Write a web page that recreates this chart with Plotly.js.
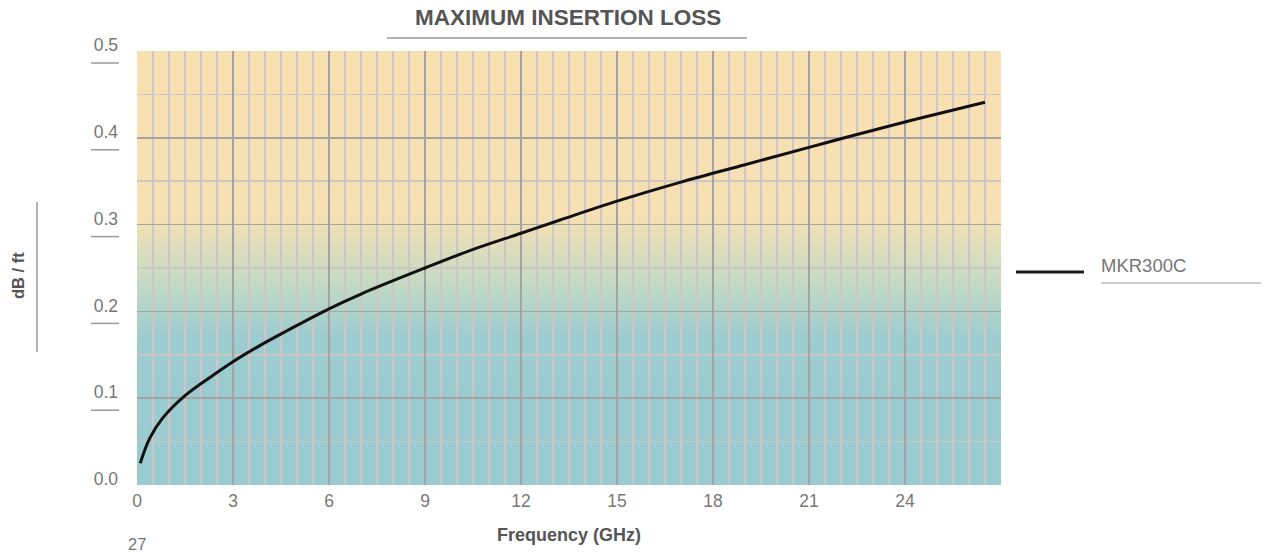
<!DOCTYPE html>
<html>
<head>
<meta charset="utf-8">
<script src="https://cdn.plot.ly/plotly-3.0.1.min.js"></script>
<style>
html,body{margin:0;padding:0;background:#fff;}
#chart{width:1269px;height:555px;}
</style>
</head>
<body>
<div id="chart"></div>
<script>
// ---- data ----
const seriesName = "MKR300C";
const freqGHz = [0.1, 0.4, 0.8, 1.5, 2.4, 3, 4, 4.7, 6, 7, 9, 10.4, 12, 13.2, 15, 17, 19, 21, 22.2, 24.3, 26.5];
const lossDbPerFt = [0.025, 0.054, 0.077, 0.103, 0.127, 0.142, 0.164, 0.178, 0.203, 0.220, 0.250, 0.270, 0.290, 0.305, 0.327, 0.349, 0.369, 0.389, 0.401, 0.421, 0.441];
const xTickVals = [0, 3, 6, 9, 12, 15, 18, 21, 24];
const xTickText = ["0", "3", "6", "9", "12", "15", "18", "21", "24"];
const yTickVals = [0, 0.1, 0.2, 0.3, 0.4, 0.5];
const yTickText = ["0.0", "0.1", "0.2", "0.3", "0.4", "0.5"];
const strayTickLabel = "27";
const chartTitle = "MAXIMUM INSERTION LOSS";
const xTitle = "Frequency (GHz)";
const yTitle = "dB / ft";

// ---- background gradient image ----
function gradientURL() {
  const c = document.createElement("canvas");
  c.width = 4; c.height = 434;
  const g = c.getContext("2d");
  const lg = g.createLinearGradient(0, 0, 0, 434);
  lg.addColorStop(0, "#f9e0b1");
  lg.addColorStop(0.38, "#f6e0b4");
  lg.addColorStop(0.52, "#c9dbc3");
  lg.addColorStop(0.66, "#9dccd0");
  lg.addColorStop(1, "#99cbd0");
  g.fillStyle = lg;
  g.fillRect(0, 0, 4, 434);
  return c.toDataURL("image/png");
}

const font = "Liberation Sans, Arial, Helvetica, sans-serif";
const PW = 864, PH = 434, L = 137, T = 51;
const px = v => (v - L) / PW;          // pixel x -> paper x
const py = v => (T + PH - v) / PH;      // pixel y -> paper y

const trace = {
  x: freqGHz, y: lossDbPerFt, type: "scatter", mode: "lines",
  name: seriesName, line: {color: "#111111", width: 3, shape: "spline", smoothing: 1},
  showlegend: false, hoverinfo: "x+y"
};

const shapes = [
  // title underline
  {type: "line", xref: "paper", yref: "paper", x0: px(387), x1: px(747), y0: py(38), y1: py(38), line: {color: "#9a9a9a", width: 1.5}},
  // y title line
  {type: "line", xref: "paper", yref: "paper", x0: px(37), x1: px(37), y0: py(202), y1: py(352), line: {color: "#9a9a9a", width: 1.5}},
  // legend sample line
  {type: "line", xref: "paper", yref: "paper", x0: px(1016), x1: px(1084), y0: py(272), y1: py(272), line: {color: "#1a1a1a", width: 3}},
  // legend underline
  {type: "line", xref: "paper", yref: "paper", x0: px(1101), x1: px(1261), y0: py(283), y1: py(283), line: {color: "#9a9a9a", width: 1.2}}
];
// dashes beneath each y tick label
yTickVals.forEach(v => {
  shapes.push({type: "line", xref: "paper", yref: "y", ysizemode: "pixel", yanchor: v,
    x0: px(91), x1: px(119), y0: -12, y1: -12, line: {color: "#9a9a9a", width: 1.5}});
});

const annotations = [
  {text: chartTitle, xref: "paper", yref: "paper", x: px(568), y: py(18), showarrow: false,
   xanchor: "center", yanchor: "middle", font: {family: font, size: 22.5, color: "#555555", weight: "bold"}},
  {text: yTitle, xref: "paper", yref: "paper", x: px(18), y: py(276), showarrow: false, textangle: -90,
   xanchor: "center", yanchor: "middle", font: {family: font, size: 16.5, color: "#555555", weight: "bold"}},
  {text: seriesName, xref: "paper", yref: "paper", x: px(1099), y: py(265), showarrow: false,
   xanchor: "left", yanchor: "middle", font: {family: font, size: 18.5, color: "#777777"}},
  {text: strayTickLabel, xref: "x", yref: "paper", x: 0, y: py(543.5), showarrow: false,
   xanchor: "center", yanchor: "middle", font: {family: font, size: 16.5, color: "#777777"}}
];

const layout = {
  width: 1269, height: 555,
  margin: {l: L, r: 1269 - L - PW, t: T, b: 555 - T - PH, pad: 0},
  paper_bgcolor: "#ffffff", plot_bgcolor: "#ffffff",
  font: {family: font, color: "#777777", size: 17.5},
  showlegend: false,
  xaxis: {
    range: [0, 27], tickmode: "array", tickvals: xTickVals, ticktext: xTickText,
    showgrid: true, gridcolor: "#a4a4a4", gridwidth: 1.5, zeroline: false, showline: false,
    ticks: "", ticklabelstandoff: 3, tickfont: {family: font, size: 17.5, color: "#777777"},
    minor: {dtick: 0.5, showgrid: true, gridcolor: "#cbc8c4", gridwidth: 1.5, ticks: ""},
    title: {text: xTitle, standoff: 18, font: {family: font, size: 18, color: "#555555", weight: "bold"}},
    fixedrange: true
  },
  yaxis: {
    range: [0, 0.5], tickmode: "array", tickvals: yTickVals, ticktext: yTickText,
    showgrid: true, gridcolor: "#a4a4a4", gridwidth: 1.5, zeroline: false, showline: false,
    ticks: "", ticklabelstandoff: 18, ticklabelshift: -6,
    tickfont: {family: font, size: 17.5, color: "#777777"},
    minor: {dtick: 0.05, showgrid: true, gridcolor: "#cbc8c4", gridwidth: 1.5, ticks: ""},
    fixedrange: true
  },
  images: [{source: gradientURL(), xref: "paper", yref: "paper", x: 0, y: 1, sizex: 1, sizey: 1,
            sizing: "stretch", layer: "below", xanchor: "left", yanchor: "top"}],
  shapes: shapes,
  annotations: annotations
};

Plotly.newPlot("chart", [trace], layout, {displayModeBar: false, staticPlot: true});
</script>
</body>
</html>
